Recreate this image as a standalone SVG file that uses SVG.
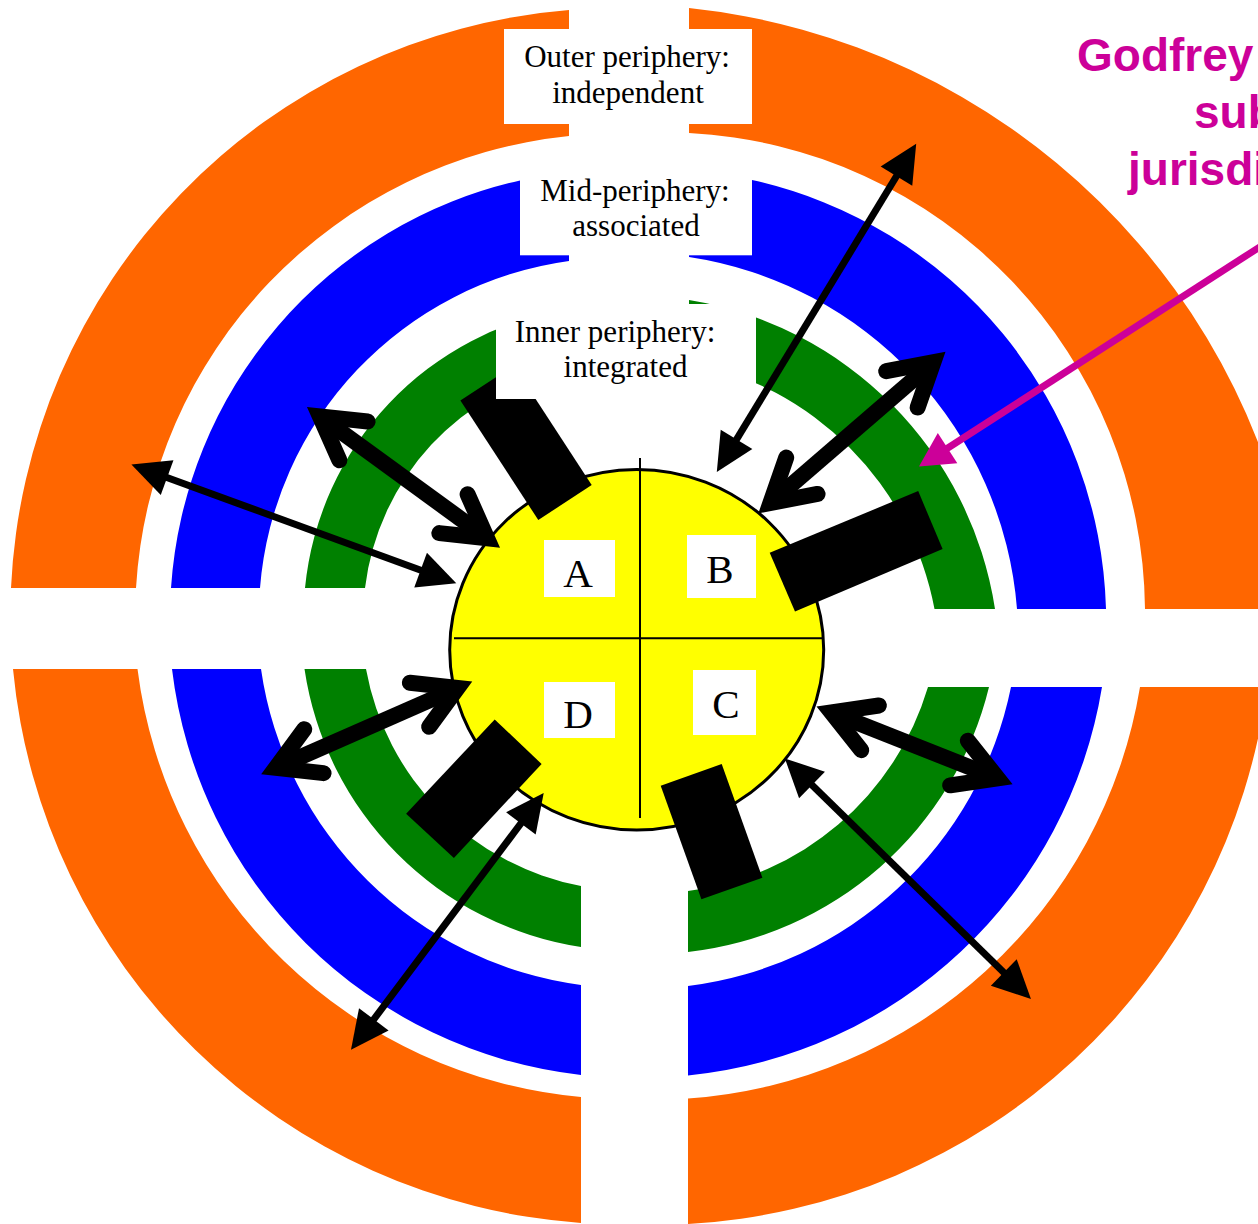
<svg xmlns="http://www.w3.org/2000/svg" width="1258" height="1224" viewBox="0 0 1258 1224">
<style>
.or{fill:#FF6600}.bl{fill:#0000FF}.gr{fill:#008000}
.lbl{fill:#fff}
.t31{font-family:"Liberation Serif","Times New Roman",serif;font-size:31px;fill:#000;text-anchor:middle}
.t41{font-family:"Liberation Serif","Times New Roman",serif;font-size:41px;fill:#000;text-anchor:middle}
.mg{font-family:"Liberation Sans",Arial,sans-serif;font-size:46px;font-weight:bold;fill:#CC0099}
.blk{fill:#000}
.thin{stroke:#000;stroke-width:7;fill:none;marker-start:url(#thinH);marker-end:url(#thinH)}
.thick{stroke:#000;stroke-width:16;fill:none;marker-start:url(#thickH);marker-end:url(#thickH)}
</style>
<defs>
<marker id="thinH" markerUnits="userSpaceOnUse" orient="auto-start-reverse" refX="0" refY="0" markerWidth="10" markerHeight="10" overflow="visible"><path d="M10,0 L-28,-18.5 L-28,18.5 Z" fill="#000"/></marker>
<marker id="thickH" markerUnits="userSpaceOnUse" orient="auto-start-reverse" refX="0" refY="0" markerWidth="10" markerHeight="10" overflow="visible"><polyline points="-41.6,-24 0,0 -41.6,24" fill="none" stroke="#000" stroke-width="16" stroke-linejoin="miter" stroke-linecap="round"/></marker>
<marker id="magH" markerUnits="userSpaceOnUse" orient="auto" refX="0" refY="0" markerWidth="10" markerHeight="10" overflow="visible"><path d="M8,0 L-26,-18 L-26,18 Z" fill="#CC0099"/></marker>
</defs>
<rect width="1258" height="1224" fill="#fff"/>
<g id="rings">
<g id="quadrant-tl">
<path class="or" d="M11,588 A608,608 0 0 1 569,10 L569,136 A483,483 0 0 0 136,588 Z"/>
<path class="bl" d="M171,588 A448,448 0 0 1 520,180.5 L569,180.5 L569,261 A359,359 0 0 0 260,588 Z"/>
<path class="gr" d="M305,588 A313,313 0 0 1 569,309 L569,368 A255,255 0 0 0 365,588 Z"/>
</g>
<g id="quadrant-tr">
<path class="or" d="M689,8 A688,688 0 0 1 1300,609 L1145,609 A481,481 0 0 0 689,133 Z"/>
<path class="bl" d="M689,180 L752,180 A452,452 0 0 1 1106,609 L1017,609 A387,387 0 0 0 689,257 Z"/>
<path class="gr" d="M689,300 A370,370 0 0 1 995,609 L934.5,609 A310,310 0 0 0 689,362 Z"/>
</g>
<g id="quadrant-bl">
<path class="or" d="M13,669 A614,614 0 0 0 581,1223 L581,1097 A492,492 0 0 1 137.5,669 Z"/>
<path class="bl" d="M172,669 A464,464 0 0 0 581,1075 L581,985 A372,372 0 0 1 261,669 Z"/>
<path class="gr" d="M304.5,669 A330,330 0 0 0 581,947 L581,886 A270,270 0 0 1 366,669 Z"/>
</g>
<g id="quadrant-br">
<path class="or" d="M1267,687 A619,619 0 0 1 688,1224 L688,1098.6 A493,493 0 0 0 1140,687 Z"/>
<path class="bl" d="M1102,687 A466,466 0 0 1 688,1075.5 L688,986 A377,377 0 0 0 1011,687 Z"/>
<path class="gr" d="M989,687 A350,350 0 0 1 688,952 L688,891 A289,289 0 0 0 928,687 Z"/>
</g>
</g>
<g id="core">
<ellipse cx="636.7" cy="649.7" rx="187" ry="180.3" fill="#FFFF00" stroke="#000" stroke-width="3"/>
<path d="M640,458 V818 M454,638.3 H823" stroke="#000" stroke-width="2" fill="none"/>
</g>
<g id="node-a"><rect class="lbl" x="544" y="540" width="71" height="57"/><text class="t41" x="578" y="587">A</text></g>
<g id="node-b"><rect class="lbl" x="687" y="535" width="69" height="63"/><text class="t41" x="720" y="583">B</text></g>
<g id="node-d"><rect class="lbl" x="544" y="682" width="71" height="56"/><text class="t41" x="578" y="728">D</text></g>
<g id="node-c"><rect class="lbl" x="693" y="670" width="63" height="65"/><text class="t41" x="726" y="718">C</text></g>
<g id="blocks">
<polygon class="blk" points="460.4,400.5 513.8,365.5 591.7,485 538.3,520"/>
<polygon class="blk" points="769.7,552.7 918.2,491.1 942.6,549.1 795,611.6"/>
<polygon class="blk" points="494.7,719.4 541.6,764 453.9,857.9 406.1,813.7"/>
<polygon class="blk" points="660.7,785.8 721.7,763.9 762.4,877.8 701.4,899.2"/>
</g>
<g id="label-outer"><rect class="lbl" x="504" y="29" width="248" height="95"/><text class="t31" x="627" y="67">Outer periphery:</text><text class="t31" x="628" y="102.5">independent</text></g>
<g id="label-mid"><rect class="lbl" x="520" y="179.3" width="232" height="76"/><text class="t31" x="635" y="201">Mid-periphery:</text><text class="t31" x="636" y="236">associated</text></g>
<g id="label-inner"><rect class="lbl" x="496" y="304" width="260" height="95"/><text class="t31" x="615" y="341.7">Inner periphery:</text><text class="t31" x="625.5" y="377.3">integrated</text></g>
<g id="connectors">
<path class="thin" d="M722,463.4 L911,152.3"/>
<path class="thin" d="M140.8,468 L446.9,579.8"/>
<path class="thin" d="M357,1041.7 L537.7,801"/>
<path class="thin" d="M792,765.4 L1023.8,992.1"/>
<path class="thick" d="M319.9,416.4 L487.1,538.2"/>
<path class="thick" d="M770.4,503 L933.4,362.2"/>
<path class="thick" d="M275.8,767.9 L457.6,688"/>
<path class="thick" d="M831.4,712.5 L997.7,778.3"/>
<path d="M1272.2,238.9 L925.7,462.2" stroke="#CC0099" stroke-width="7" fill="none" marker-end="url(#magH)"/>
</g>
<g id="note">
<text class="mg" x="1077" y="71">Godfrey</text>
<text class="mg" x="1194" y="128">sub</text>
<text class="mg" x="1128" y="185">jurisdi</text>
</g>
</svg>
